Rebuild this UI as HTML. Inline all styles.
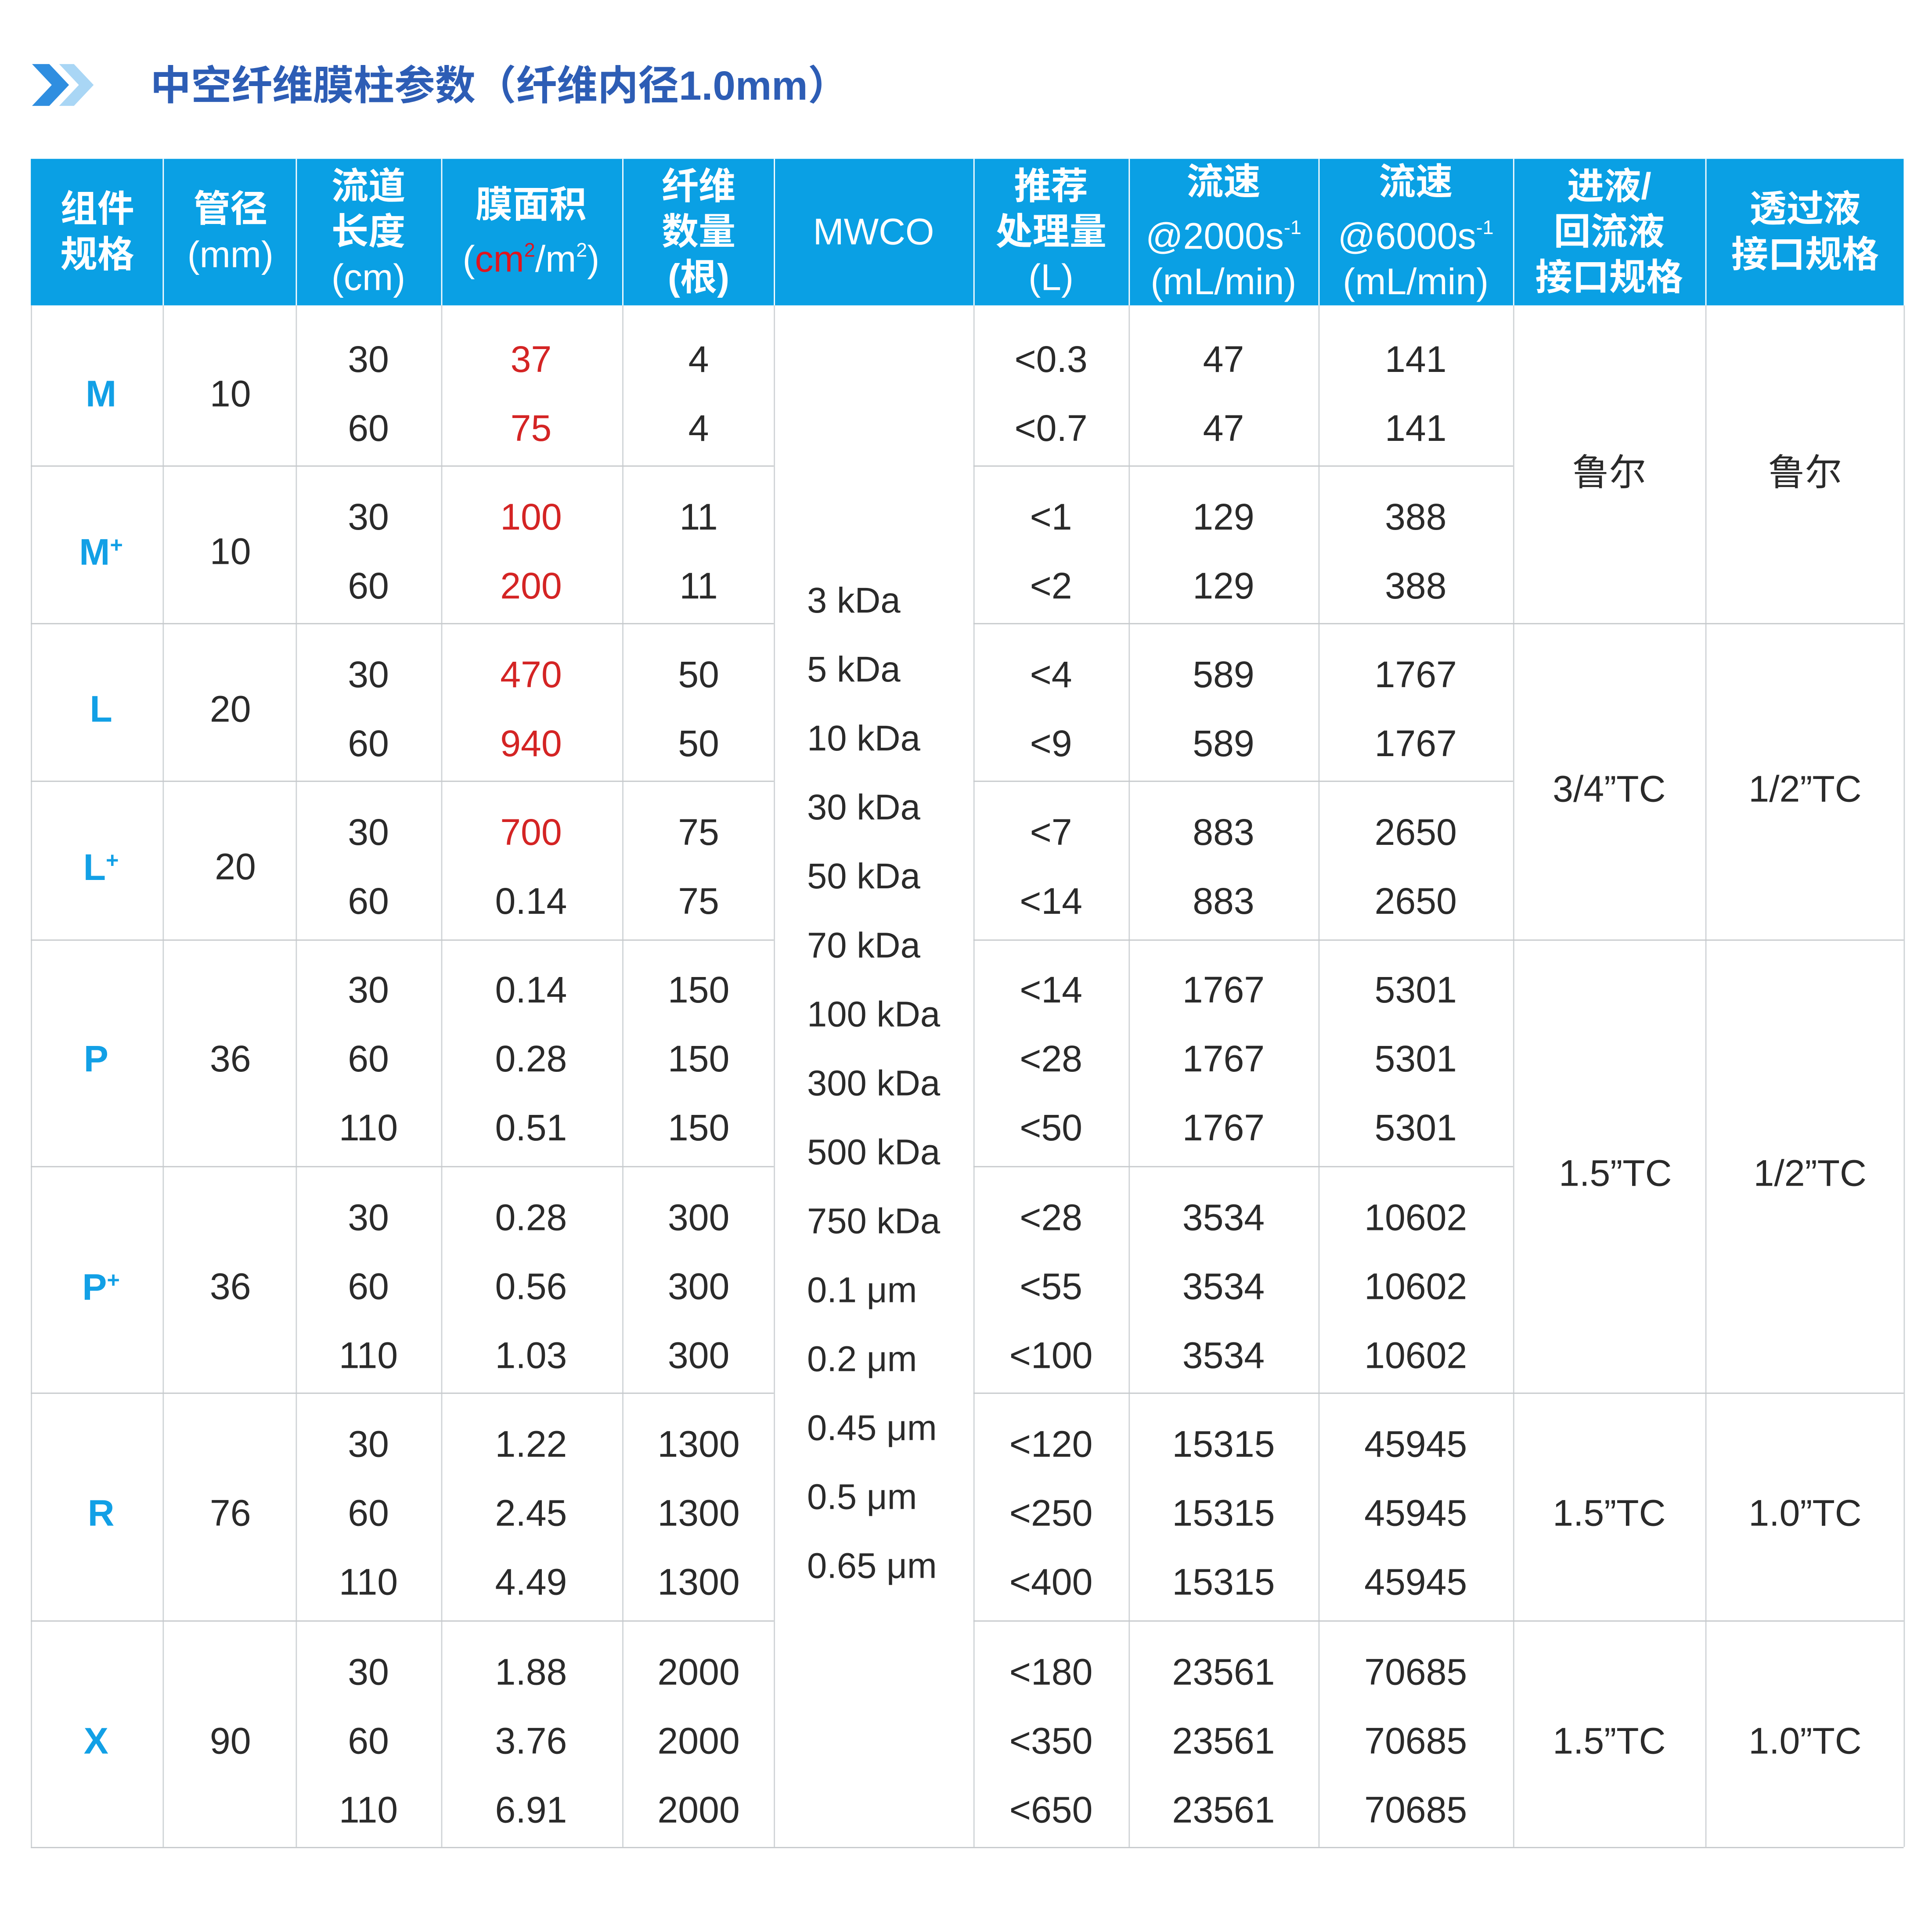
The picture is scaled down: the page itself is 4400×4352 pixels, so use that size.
<!DOCTYPE html>
<html><head><meta charset="utf-8"><style>
html,body{margin:0;padding:0;background:#fff;}
body{width:4400px;height:4352px;overflow:hidden;position:relative;}
#s{position:absolute;left:0;top:0;width:1568px;height:1552px;transform-origin:0 0;transform:scale(2.8061,2.8041);font-family:"Liberation Sans","Noto Sans CJK SC",sans-serif;}
.t{position:absolute;transform:translate(-50%,-43%);white-space:nowrap;font-size:30px;color:#2a2a2a;line-height:1;}
.r{color:#d42424;}
.b{color:#12a0e6;font-weight:bold;font-size:30px;}
.h{position:absolute;transform:translate(-50%,-50%);white-space:nowrap;color:#fff;font-weight:bold;font-size:30px;line-height:37px;text-align:center;}
.m{position:absolute;left:655px;transform:translateY(-43%);font-size:29px;color:#2a2a2a;white-space:nowrap;line-height:1;}
.v{position:absolute;width:1px;background:#cfd3d6;}
.hl{position:absolute;height:1px;background:#c6c9cc;}
sup{font-size:16px;vertical-align:12px;}
</style></head><body><div id="s">
<svg style="position:absolute;left:24px;top:50px" width="60" height="38"><polygon points="2,2 16,2 32,19 16,36 2,36 18,19" fill="#2f8ee0"/><polygon points="24,2 36,2 52,19 36,36 24,36 40,19" fill="#a9d6f5"/></svg>
<div style="position:absolute;left:122px;top:50px;font-size:33px;font-weight:bold;color:#2d5db5;white-space:nowrap;line-height:40px;">中空纤维膜柱参数（纤维内径1.0mm）</div>
<div style="position:absolute;left:25px;top:129px;width:1520px;height:119px;background:#0aa0e4;"></div>
<div style="position:absolute;left:132px;top:129px;width:1px;height:119px;background:#fff"></div>
<div style="position:absolute;left:240px;top:129px;width:1px;height:119px;background:#fff"></div>
<div style="position:absolute;left:358px;top:129px;width:1px;height:119px;background:#fff"></div>
<div style="position:absolute;left:505px;top:129px;width:1px;height:119px;background:#fff"></div>
<div style="position:absolute;left:628px;top:129px;width:1px;height:119px;background:#fff"></div>
<div style="position:absolute;left:790px;top:129px;width:1px;height:119px;background:#fff"></div>
<div style="position:absolute;left:916px;top:129px;width:1px;height:119px;background:#fff"></div>
<div style="position:absolute;left:1070px;top:129px;width:1px;height:119px;background:#fff"></div>
<div style="position:absolute;left:1228px;top:129px;width:1px;height:119px;background:#fff"></div>
<div style="position:absolute;left:1384px;top:129px;width:1px;height:119px;background:#fff"></div>
<div class="h" style="left:79px;top:189px">组件<br>规格</div>
<div class="h" style="left:187px;top:189px">管径<br><span style="font-weight:normal">(mm)</span></div>
<div class="h" style="left:299px;top:189px">流道<br>长度<br><span style="font-weight:normal">(cm)</span></div>
<div class="h" style="left:431px;top:189px">膜面积<br><span style="font-weight:normal">(<span style="color:#e0141e">cm<sup>2</sup></span>/m<sup>2</sup>)</span></div>
<div class="h" style="left:567px;top:189px">纤维<br>数量<br>(根)</div>
<div class="h" style="left:709px;top:189px;font-weight:normal">MWCO</div>
<div class="h" style="left:853px;top:189px">推荐<br>处理量<br><span style="font-weight:normal">(L)</span></div>
<div class="h" style="left:993px;top:189px;font-weight:normal"><b>流速</b><br>@2000s<sup>-1</sup><br>(mL/min)</div>
<div class="h" style="left:1149px;top:189px;font-weight:normal"><b>流速</b><br>@6000s<sup>-1</sup><br>(mL/min)</div>
<div class="h" style="left:1306px;top:189px">进液/<br>回流液<br>接口规格</div>
<div class="h" style="left:1465px;top:189px">透过液<br>接口规格</div>
<div class="v" style="left:25px;top:248px;height:1252px"></div>
<div class="v" style="left:132px;top:248px;height:1252px"></div>
<div class="v" style="left:240px;top:248px;height:1252px"></div>
<div class="v" style="left:358px;top:248px;height:1252px"></div>
<div class="v" style="left:505px;top:248px;height:1252px"></div>
<div class="v" style="left:628px;top:248px;height:1252px"></div>
<div class="v" style="left:790px;top:248px;height:1252px"></div>
<div class="v" style="left:916px;top:248px;height:1252px"></div>
<div class="v" style="left:1070px;top:248px;height:1252px"></div>
<div class="v" style="left:1228px;top:248px;height:1252px"></div>
<div class="v" style="left:1384px;top:248px;height:1252px"></div>
<div class="v" style="left:1545px;top:248px;height:1252px"></div>
<div class="hl" style="left:25px;top:378px;width:603px"></div><div class="hl" style="left:790px;top:378px;width:438px"></div>
<div class="hl" style="left:25px;top:506px;width:603px"></div><div class="hl" style="left:790px;top:506px;width:755px"></div>
<div class="hl" style="left:25px;top:634px;width:603px"></div><div class="hl" style="left:790px;top:634px;width:438px"></div>
<div class="hl" style="left:25px;top:763px;width:603px"></div><div class="hl" style="left:790px;top:763px;width:755px"></div>
<div class="hl" style="left:25px;top:947px;width:603px"></div><div class="hl" style="left:790px;top:947px;width:438px"></div>
<div class="hl" style="left:25px;top:1131px;width:603px"></div><div class="hl" style="left:790px;top:1131px;width:755px"></div>
<div class="hl" style="left:25px;top:1316px;width:603px"></div><div class="hl" style="left:790px;top:1316px;width:755px"></div>
<div class="hl" style="left:25px;top:1500px;width:1520px"></div>
<div class="t b" style="left:82px;top:319px">M</div><div class="t" style="left:187px;top:319px">10</div>
<div class="t" style="left:299px;top:291px">30</div><div class="t" style="left:299px;top:347px">60</div>
<div class="t r" style="left:431px;top:291px">37</div><div class="t r" style="left:431px;top:347px">75</div>
<div class="t" style="left:567px;top:291px">4</div><div class="t" style="left:567px;top:347px">4</div>
<div class="t" style="left:853px;top:291px">&lt;0.3</div><div class="t" style="left:853px;top:347px">&lt;0.7</div>
<div class="t" style="left:993px;top:291px">47</div><div class="t" style="left:993px;top:347px">47</div>
<div class="t" style="left:1149px;top:291px">141</div><div class="t" style="left:1149px;top:347px">141</div>
<div class="t b" style="left:82px;top:447px">M<sup style="font-size:18px;vertical-align:10px">+</sup></div><div class="t" style="left:187px;top:447px">10</div>
<div class="t" style="left:299px;top:419px">30</div><div class="t" style="left:299px;top:475px">60</div>
<div class="t r" style="left:431px;top:419px">100</div><div class="t r" style="left:431px;top:475px">200</div>
<div class="t" style="left:567px;top:419px">11</div><div class="t" style="left:567px;top:475px">11</div>
<div class="t" style="left:853px;top:419px">&lt;1</div><div class="t" style="left:853px;top:475px">&lt;2</div>
<div class="t" style="left:993px;top:419px">129</div><div class="t" style="left:993px;top:475px">129</div>
<div class="t" style="left:1149px;top:419px">388</div><div class="t" style="left:1149px;top:475px">388</div>
<div class="t b" style="left:82px;top:575px">L</div><div class="t" style="left:187px;top:575px">20</div>
<div class="t" style="left:299px;top:547px">30</div><div class="t" style="left:299px;top:603px">60</div>
<div class="t r" style="left:431px;top:547px">470</div><div class="t r" style="left:431px;top:603px">940</div>
<div class="t" style="left:567px;top:547px">50</div><div class="t" style="left:567px;top:603px">50</div>
<div class="t" style="left:853px;top:547px">&lt;4</div><div class="t" style="left:853px;top:603px">&lt;9</div>
<div class="t" style="left:993px;top:547px">589</div><div class="t" style="left:993px;top:603px">589</div>
<div class="t" style="left:1149px;top:547px">1767</div><div class="t" style="left:1149px;top:603px">1767</div>
<div class="t b" style="left:82px;top:703px">L<sup style="font-size:18px;vertical-align:10px">+</sup></div><div class="t" style="left:191px;top:703px">20</div>
<div class="t" style="left:299px;top:675px">30</div><div class="t" style="left:299px;top:731px">60</div>
<div class="t r" style="left:431px;top:675px">700</div><div class="t" style="left:431px;top:731px">0.14</div>
<div class="t" style="left:567px;top:675px">75</div><div class="t" style="left:567px;top:731px">75</div>
<div class="t" style="left:853px;top:675px">&lt;7</div><div class="t" style="left:853px;top:731px">&lt;14</div>
<div class="t" style="left:993px;top:675px">883</div><div class="t" style="left:993px;top:731px">883</div>
<div class="t" style="left:1149px;top:675px">2650</div><div class="t" style="left:1149px;top:731px">2650</div>
<div class="t b" style="left:78px;top:859px">P</div><div class="t" style="left:187px;top:859px">36</div>
<div class="t" style="left:299px;top:803px">30</div><div class="t" style="left:299px;top:859px">60</div><div class="t" style="left:299px;top:915px">110</div>
<div class="t" style="left:431px;top:803px">0.14</div><div class="t" style="left:431px;top:859px">0.28</div><div class="t" style="left:431px;top:915px">0.51</div>
<div class="t" style="left:567px;top:803px">150</div><div class="t" style="left:567px;top:859px">150</div><div class="t" style="left:567px;top:915px">150</div>
<div class="t" style="left:853px;top:803px">&lt;14</div><div class="t" style="left:853px;top:859px">&lt;28</div><div class="t" style="left:853px;top:915px">&lt;50</div>
<div class="t" style="left:993px;top:803px">1767</div><div class="t" style="left:993px;top:859px">1767</div><div class="t" style="left:993px;top:915px">1767</div>
<div class="t" style="left:1149px;top:803px">5301</div><div class="t" style="left:1149px;top:859px">5301</div><div class="t" style="left:1149px;top:915px">5301</div>
<div class="t b" style="left:82px;top:1044px">P<sup style="font-size:18px;vertical-align:10px">+</sup></div><div class="t" style="left:187px;top:1044px">36</div>
<div class="t" style="left:299px;top:988px">30</div><div class="t" style="left:299px;top:1044px">60</div><div class="t" style="left:299px;top:1100px">110</div>
<div class="t" style="left:431px;top:988px">0.28</div><div class="t" style="left:431px;top:1044px">0.56</div><div class="t" style="left:431px;top:1100px">1.03</div>
<div class="t" style="left:567px;top:988px">300</div><div class="t" style="left:567px;top:1044px">300</div><div class="t" style="left:567px;top:1100px">300</div>
<div class="t" style="left:853px;top:988px">&lt;28</div><div class="t" style="left:853px;top:1044px">&lt;55</div><div class="t" style="left:853px;top:1100px">&lt;100</div>
<div class="t" style="left:993px;top:988px">3534</div><div class="t" style="left:993px;top:1044px">3534</div><div class="t" style="left:993px;top:1100px">3534</div>
<div class="t" style="left:1149px;top:988px">10602</div><div class="t" style="left:1149px;top:1044px">10602</div><div class="t" style="left:1149px;top:1100px">10602</div>
<div class="t b" style="left:82px;top:1228px">R</div><div class="t" style="left:187px;top:1228px">76</div>
<div class="t" style="left:299px;top:1172px">30</div><div class="t" style="left:299px;top:1228px">60</div><div class="t" style="left:299px;top:1284px">110</div>
<div class="t" style="left:431px;top:1172px">1.22</div><div class="t" style="left:431px;top:1228px">2.45</div><div class="t" style="left:431px;top:1284px">4.49</div>
<div class="t" style="left:567px;top:1172px">1300</div><div class="t" style="left:567px;top:1228px">1300</div><div class="t" style="left:567px;top:1284px">1300</div>
<div class="t" style="left:853px;top:1172px">&lt;120</div><div class="t" style="left:853px;top:1228px">&lt;250</div><div class="t" style="left:853px;top:1284px">&lt;400</div>
<div class="t" style="left:993px;top:1172px">15315</div><div class="t" style="left:993px;top:1228px">15315</div><div class="t" style="left:993px;top:1284px">15315</div>
<div class="t" style="left:1149px;top:1172px">45945</div><div class="t" style="left:1149px;top:1228px">45945</div><div class="t" style="left:1149px;top:1284px">45945</div>
<div class="t b" style="left:78px;top:1413px">X</div><div class="t" style="left:187px;top:1413px">90</div>
<div class="t" style="left:299px;top:1357px">30</div><div class="t" style="left:299px;top:1413px">60</div><div class="t" style="left:299px;top:1469px">110</div>
<div class="t" style="left:431px;top:1357px">1.88</div><div class="t" style="left:431px;top:1413px">3.76</div><div class="t" style="left:431px;top:1469px">6.91</div>
<div class="t" style="left:567px;top:1357px">2000</div><div class="t" style="left:567px;top:1413px">2000</div><div class="t" style="left:567px;top:1469px">2000</div>
<div class="t" style="left:853px;top:1357px">&lt;180</div><div class="t" style="left:853px;top:1413px">&lt;350</div><div class="t" style="left:853px;top:1469px">&lt;650</div>
<div class="t" style="left:993px;top:1357px">23561</div><div class="t" style="left:993px;top:1413px">23561</div><div class="t" style="left:993px;top:1469px">23561</div>
<div class="t" style="left:1149px;top:1357px">70685</div><div class="t" style="left:1149px;top:1413px">70685</div><div class="t" style="left:1149px;top:1469px">70685</div>
<div class="t" style="left:1306px;top:383px">鲁尔</div><div class="t" style="left:1465px;top:383px">鲁尔</div>
<div class="t" style="left:1306px;top:640px">3/4”TC</div><div class="t" style="left:1465px;top:640px">1/2”TC</div>
<div class="t" style="left:1311px;top:952px">1.5”TC</div><div class="t" style="left:1469px;top:952px">1/2”TC</div>
<div class="t" style="left:1306px;top:1228px">1.5”TC</div><div class="t" style="left:1465px;top:1228px">1.0”TC</div>
<div class="t" style="left:1306px;top:1413px">1.5”TC</div><div class="t" style="left:1465px;top:1413px">1.0”TC</div>
<div class="m" style="top:487px">3 kDa</div><div class="m" style="top:543px">5 kDa</div>
<div class="m" style="top:599px">10 kDa</div><div class="m" style="top:655px">30 kDa</div>
<div class="m" style="top:711px">50 kDa</div><div class="m" style="top:767px">70 kDa</div>
<div class="m" style="top:823px">100 kDa</div><div class="m" style="top:879px">300 kDa</div>
<div class="m" style="top:935px">500 kDa</div><div class="m" style="top:991px">750 kDa</div>
<div class="m" style="top:1047px">0.1 μm</div><div class="m" style="top:1103px">0.2 μm</div>
<div class="m" style="top:1159px">0.45 μm</div><div class="m" style="top:1215px">0.5 μm</div>
<div class="m" style="top:1271px">0.65 μm</div>
</div></body></html>
